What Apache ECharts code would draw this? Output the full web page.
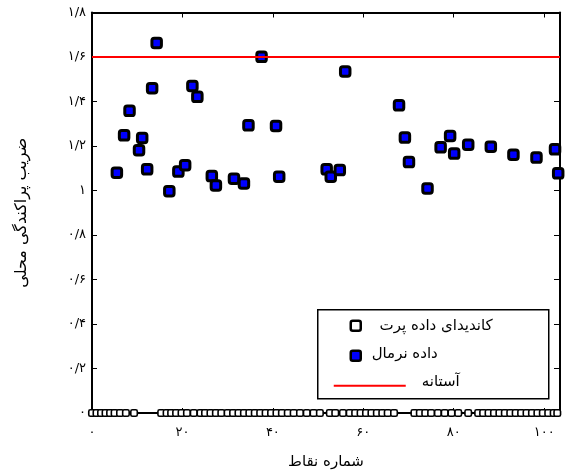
<!DOCTYPE html>
<html>
<head>
<meta charset="utf-8">
<script src="https://cdn.jsdelivr.net/npm/echarts@6/dist/echarts.min.js"></script>
<style>
html,body{margin:0;padding:0;background:#fff;}
#chart{width:570px;height:473px;}
</style>
</head>
<body>
<div id="chart"></div>
<script>
// ---- data ----
const seriesNames = ['کاندیدای داده پرت', 'داده نرمال', 'آستانه'];
const xAxisTitle = 'شماره نقاط';
const yAxisTitle = 'ضریب پراکندگی محلی';

const xTickValues = [0, 20, 40, 60, 80, 100];
const xTickLabels = ['۰', '۲۰', '۴۰', '۶۰', '۸۰', '۱۰۰'];
const yTickValues = [0, 0.2, 0.4, 0.6, 0.8, 1, 1.2, 1.4, 1.6, 1.8];
const yTickLabels = ['۰', '۰/۲', '۰/۴', '۰/۶', '۰/۸', '۱', '۱/۲', '۱/۴', '۱/۶', '۱/۸'];

const threshold = 1.6;

const normalX = [5.5, 7.1, 8.3, 10.4, 11.1, 12.2, 13.3, 14.3, 17.1, 19.1, 20.6, 22.2, 23.3, 26.5, 27.4,
  31.4, 33.6, 34.6, 37.5, 40.7, 41.4, 51.9, 52.8, 54.8, 56.0, 67.9, 69.2, 70.1, 74.2, 77.1,
  79.2, 80.1, 83.2, 88.2, 93.2, 98.3, 102.4, 103.1];
const normalY = [1.080, 1.248, 1.358, 1.181, 1.236, 1.095, 1.460, 1.663, 0.997, 1.085, 1.114, 1.470, 1.421, 1.065, 1.023,
  1.053, 1.032, 1.293, 1.601, 1.290, 1.062, 1.095, 1.062, 1.092, 1.535, 1.383, 1.238, 1.128, 1.009, 1.194,
  1.245, 1.166, 1.206, 1.197, 1.161, 1.148, 1.185, 1.077];

const candidateX = [0, 1, 2, 3, 4, 5, 6.2, 7.5, 9.3,
  15.3, 16.5, 17.5, 18.6, 19.8, 21, 22.5, 24, 25, 26.2, 27.4, 28.6, 30, 31.2, 32.4, 33.6, 34.8, 36, 37.2,
  38.4, 39.6, 40.8, 42, 43.3, 44.6, 46, 47.5, 49, 50.4, 52.6, 53.8, 55.5, 57, 58.2, 59.4, 60.6, 61.8, 63,
  64.2, 65.4, 66.8,
  71.3, 72.5, 73.7, 75, 76.5, 78, 79.5, 81, 83.2, 85.4, 86.5, 87.7, 88.9, 90.1, 91.3, 92.5, 93.7, 94.9,
  96.1, 97.3, 98.5, 99.7, 100.9, 102.1, 102.9];
const candidateY = [0, 0, 0, 0, 0, 0, 0, 0, 0,
  0, 0, 0, 0, 0, 0, 0, 0, 0, 0, 0, 0, 0, 0, 0, 0, 0, 0, 0,
  0, 0, 0, 0, 0, 0, 0, 0, 0, 0, 0, 0, 0, 0, 0, 0, 0, 0, 0,
  0, 0, 0,
  0, 0, 0, 0, 0, 0, 0, 0, 0, 0, 0, 0, 0, 0, 0, 0, 0, 0,
  0, 0, 0, 0, 0, 0, 0];

// ---- chart ----
const fontFa = "'DejaVu Sans', sans-serif";
const chart = echarts.init(document.getElementById('chart'), null, {renderer: 'canvas'});

function lookup(values, labels, v) {
  const r = Math.round(v * 100) / 100;
  const i = values.findIndex(t => Math.abs(t - r) < 1e-6);
  return i >= 0 ? labels[i] : '';
}

const normalData = normalX.map((x, i) => [x, normalY[i]]);
const candData = candidateX.map((x, i) => [x, candidateY[i]]);

const axisLine = {show: true, onZero: false, lineStyle: {color: '#000', width: 2}};

const option = {
  animation: false,
  backgroundColor: '#fff',
  grid: {left: 92, right: 10, top: 12.5, bottom: 60, containLabel: false, outerBoundsMode: 'none'},
  xAxis: [{
    type: 'value', min: 0, max: 103.5, splitNumber: 5,
    position: 'bottom',
    axisLine: axisLine,
    axisTick: {inside: true, length: 5, lineStyle: {color: '#000', width: 1}},
    splitLine: {show: false},
    axisLabel: {
      margin: 13, color: '#000', fontSize: 13, fontFamily: fontFa,
      formatter: v => lookup(xTickValues, xTickLabels, v)
    },
    name: xAxisTitle, nameLocation: 'middle', nameGap: 42,
    nameTextStyle: {color: '#000', fontSize: 15, fontFamily: fontFa}
  }, {
    type: 'value', min: 0, max: 103.5, splitNumber: 5,
    position: 'top',
    axisLine: axisLine,
    axisTick: {inside: true, length: 5, lineStyle: {color: '#000', width: 1}},
    splitLine: {show: false},
    axisLabel: {show: false}
  }],
  yAxis: [{
    type: 'value', min: 0, max: 1.8, interval: 0.2,
    position: 'left',
    axisLine: axisLine,
    axisTick: {inside: true, length: 5, lineStyle: {color: '#000', width: 1}},
    splitLine: {show: false},
    axisLabel: {
      margin: 6, color: '#000', fontSize: 13, fontFamily: fontFa,
      formatter: v => lookup(yTickValues, yTickLabels, v)
    },
    name: yAxisTitle, nameLocation: 'middle', nameGap: 62, nameRotate: 90,
    nameTextStyle: {color: '#000', fontSize: 16, fontFamily: fontFa}
  }, {
    type: 'value', min: 0, max: 1.8, interval: 0.2,
    position: 'right',
    axisLine: axisLine,
    axisTick: {inside: true, length: 6, lineStyle: {color: '#000', width: 1}},
    splitLine: {show: false},
    axisLabel: {show: false}
  }],
  series: [{
    name: seriesNames[2],
    type: 'line',
    data: [],
    z: 1,
    markLine: {
      silent: true,
      symbol: ['none', 'none'],
      label: {show: false},
      lineStyle: {color: '#ff0000', width: 2, type: 'solid'},
      data: [{yAxis: threshold}]
    }
  }, {
    name: seriesNames[0],
    type: 'scatter',
    data: candData,
    symbol: 'roundRect',
    symbolSize: 6.5,
    z: 3,
    itemStyle: {color: '#ffffff', borderColor: '#000', borderWidth: 1.6, opacity: 1}
  }, {
    name: seriesNames[1],
    type: 'scatter',
    data: normalData,
    symbol: 'roundRect',
    symbolSize: 9.5,
    z: 4,
    itemStyle: {color: '#0000ff', borderColor: '#000', borderWidth: 3, opacity: 1}
  }],
  graphic: [{
    type: 'group',
    left: 317, top: 309,
    z: 100,
    children: [
      {type: 'rect', shape: {x: 0, y: 0, width: 231, height: 89},
        style: {fill: '#fff', stroke: '#000', lineWidth: 1.5}},
      {type: 'rect', shape: {x: 33, y: 11, width: 10, height: 10, r: 2},
        style: {fill: '#fff', stroke: '#000', lineWidth: 2.5}},
      {type: 'text', x: 175, y: 16,
        style: {text: seriesNames[0], fill: '#000', font: "15px 'DejaVu Sans', sans-serif",
          textAlign: 'right', textVerticalAlign: 'middle'}},
      {type: 'rect', shape: {x: 33, y: 41, width: 10, height: 10, r: 2},
        style: {fill: '#0000ff', stroke: '#000', lineWidth: 2.5}},
      {type: 'text', x: 120, y: 44,
        style: {text: seriesNames[1], fill: '#000', font: "15px 'DejaVu Sans', sans-serif",
          textAlign: 'right', textVerticalAlign: 'middle'}},
      {type: 'line', shape: {x1: 16, y1: 76, x2: 88, y2: 76},
        style: {stroke: '#ff0000', lineWidth: 2}},
      {type: 'text', x: 142, y: 72,
        style: {text: seriesNames[2], fill: '#000', font: "15px 'DejaVu Sans', sans-serif",
          textAlign: 'right', textVerticalAlign: 'middle'}}
    ]
  }]
};
chart.setOption(option);
</script>
</body>
</html>
